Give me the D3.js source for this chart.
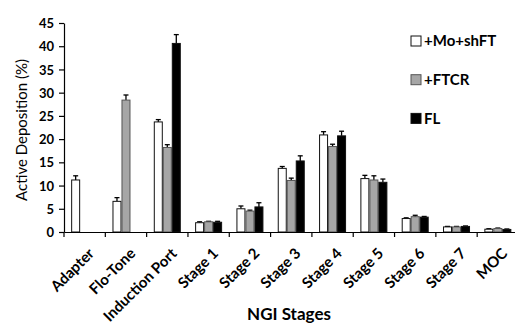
<!DOCTYPE html>
<html><head><meta charset="utf-8">
<script src="https://cdn.jsdelivr.net/npm/d3@7"></script>
<style>body{margin:0;background:#fff}svg{display:block}</style>
</head><body>
<script>
const categories = ["Adapter","Flo-Tone","Induction Port","Stage 1","Stage 2","Stage 3","Stage 4","Stage 5","Stage 6","Stage 7","MOC"];
const seriesNames = ["+Mo+shFT","+FTCR","FL"];
const moShFT    = [11.2, 6.6, 23.7, 2.0, 5.0, 13.7, 20.9, 11.5, 2.9, 1.1, 0.6];
const moShFTErr = [0.9, 0.8, 0.5, 0.2, 0.6, 0.4, 0.7, 0.7, 0.15, 0.1, 0.1];
const ftcr      = [null, 28.4, 18.2, 2.2, 4.5, 11.1, 18.4, 11.2, 3.3, 1.1, 0.75];
const ftcrErr   = [null, 1.1, 0.6, 0.1, 0.2, 0.5, 0.5, 0.9, 0.3, 0.1, 0.1];
const fl        = [null, null, 40.6, 2.1, 5.4, 15.3, 20.7, 10.7, 3.2, 1.2, 0.55];
const flErr     = [null, null, 1.9, 0.2, 0.9, 1.1, 1.0, 0.7, 0.15, 0.1, 0.1];
const yTicks = [0,5,10,15,20,25,30,35,40,45];

const colors = ["#ffffff","#a6a6a6","#000000"];
const vals = [moShFT, ftcr, fl];
const errs = [moShFTErr, ftcrErr, flErr];

const W = 515, H = 325;
const svg = d3.select("body").append("svg").attr("width", W).attr("height", H);

const x = d3.scaleBand().domain(categories).range([64, 518.5]).paddingInner(0).paddingOuter(0);
const y = d3.scaleLinear().domain([0,45]).range([232, 23]);
const barW = 9;
const groupW = barW * 3;

const data = [];
categories.forEach((c,i)=>{
  seriesNames.forEach((s,j)=>{
    if (vals[j][i] != null) data.push({c, j, v: vals[j][i], e: errs[j][i]});
  });
});
const bx = d => x(d.c) + (x.bandwidth()-groupW)/2 + d.j*barW;

const eg = svg.append("g");
data.forEach(d=>{
  const cx = bx(d) + barW/2;
  eg.append("line").attr("x1",cx).attr("x2",cx).attr("y1",y(d.v)).attr("y2",y(d.v+d.e))
    .attr("stroke","#000").attr("stroke-width",1.3);
  eg.append("line").attr("x1",cx-2.5).attr("x2",cx+2.5).attr("y1",y(d.v+d.e)).attr("y2",y(d.v+d.e))
    .attr("stroke","#000").attr("stroke-width",1.3);
});

svg.append("g").selectAll("rect").data(data).join("rect")
  .attr("x", d=>bx(d)+0.5).attr("width", barW-1)
  .attr("y", d=>y(d.v)).attr("height", d=>y(0)-y(d.v))
  .attr("fill", d=>colors[d.j]).attr("stroke", d=>d.j===1?"#555":"#111").attr("stroke-width",1);

const yAxis = d3.axisLeft(y).tickValues(yTicks).tickSize(5).tickSizeOuter(0);
const ya = svg.append("g").attr("transform","translate(64,0)").call(yAxis);
ya.select(".domain").attr("stroke","#000").attr("stroke-width",1.2);
ya.selectAll(".tick line").attr("stroke","#000").attr("stroke-width",1.2);
ya.selectAll(".tick text").attr("x",-10).attr("dy","0.35em")
  .style("font-family","Lato, 'Open Sans', sans-serif").style("font-weight","bold").style("font-size","13px").attr("fill","#000");

const xAxis = d3.axisBottom(x).tickSize(0).tickSizeOuter(0);
const xa = svg.append("g").attr("transform","translate(0,232)").call(xAxis);
xa.select(".domain").attr("stroke","#000").attr("stroke-width",1.2);
const bounds = d3.range(categories.length+1).map(i=> i<categories.length ? x(categories[i]) : x(categories[i-1])+x.bandwidth());
svg.append("g").selectAll("line").data(bounds).join("line")
  .attr("x1",d=>d).attr("x2",d=>d).attr("y1",232).attr("y2",237)
  .attr("stroke","#000").attr("stroke-width",1.2);
xa.selectAll(".tick text")
  .attr("text-anchor","end")
  .attr("transform", "translate(3,15) rotate(-45)")
  .attr("x",0).attr("y",0).attr("dy","0.7em")
  .style("font-family","Lato, 'Open Sans', sans-serif").style("font-weight","bold").style("font-size","15px").attr("fill","#000");

svg.append("text").attr("transform","translate(27,130) rotate(-90)").attr("text-anchor","middle")
  .style("font-family","Lato, 'Open Sans', sans-serif").style("font-size","15px").attr("fill","#000")
  .text("Active Deposition (%)");
svg.append("text").attr("x",289).attr("y",320).attr("text-anchor","middle")
  .style("font-family","Lato, 'Open Sans', sans-serif").style("font-weight","bold").style("font-size","17px").attr("fill","#000")
  .text("NGI Stages");

const lg = svg.append("g");
seriesNames.forEach((s,j)=>{
  const cy = 41 + j*38.7;
  lg.append("rect").attr("x",411).attr("y",cy-5).attr("width",10).attr("height",10)
    .attr("fill",colors[j]).attr("stroke", j===1?"#555":"#111").attr("stroke-width",1);
  lg.append("text").attr("x",424).attr("y",cy).attr("dy","0.35em")
    .style("font-family","Lato, 'Open Sans', sans-serif").style("font-weight","bold").style("font-size","15px").attr("fill","#000")
    .text(s);
});
</script>
</body></html>
